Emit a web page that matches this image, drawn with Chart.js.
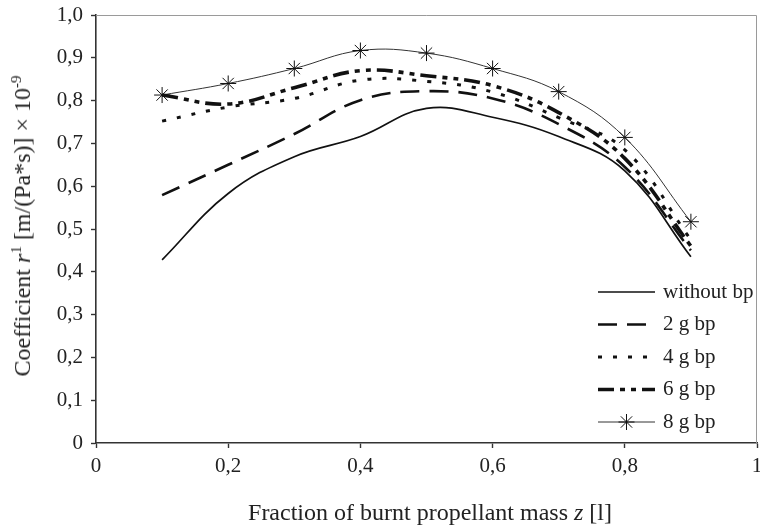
<!DOCTYPE html>
<html>
<head>
<meta charset="utf-8">
<script src="https://cdn.jsdelivr.net/npm/chart.js@4.4.1/dist/chart.umd.min.js"></script>
<style>
  html, body { margin: 0; padding: 0; background: #fff; }
  #wrap { position: relative; width: 760px; height: 530px; }
  .axis-title {
    position: absolute;
    font-family: "Liberation Serif", "DejaVu Serif", serif;
    font-size: 24px;
    color: #222;
    white-space: nowrap;
    line-height: 1;
  }
  .axis-title sup { font-size: 15px; vertical-align: 9px; line-height: 0; }
  #yTitle { left: 22px; top: 226px; transform: translate(-50%, -50%) rotate(-90deg); }
  #xTitle { left: 430px; top: 512px; transform: translate(-50%, -50%); }
</style>
</head>
<body>
<div id="wrap">
  <canvas id="chart" width="760" height="530"></canvas>
  <div class="axis-title" id="yTitle">Coefficient <i>r</i><sup>1</sup> [m/(Pa*s)] × 10<sup>-9</sup></div>
  <div class="axis-title" id="xTitle">Fraction of burnt propellant mass <i>z</i> [l]</div>
</div>
<script>
// values
const zValues = [0.1, 0.2, 0.3, 0.4, 0.5, 0.6, 0.7, 0.8, 0.9];
const withoutBp = [0.428, 0.583, 0.669, 0.716, 0.782, 0.761, 0.716, 0.636, 0.435];
const bp2g = [0.579, 0.650, 0.722, 0.801, 0.822, 0.805, 0.745, 0.645, 0.450];
const bp4g = [0.752, 0.785, 0.805, 0.848, 0.845, 0.820, 0.760, 0.685, 0.475];
const bp6g = [0.813, 0.792, 0.830, 0.870, 0.858, 0.835, 0.772, 0.665, 0.460];
const bp8g = [0.813, 0.840, 0.875, 0.917, 0.911, 0.875, 0.821, 0.714, 0.517];

const seriesLabels = ["without bp", "2 g bp", "4 g bp", "6 g bp", "8 g bp"];
const xTicks = [0, 0.2, 0.4, 0.6, 0.8, 1];
const yTicks = [0, 0.1, 0.2, 0.3, 0.4, 0.5, 0.6, 0.7, 0.8, 0.9, 1.0];

const FONT = "Liberation Serif";
const INK = "#111";

function points(values) {
  return values.map((v, i) => ({ x: zValues[i], y: v }));
}

function fmtComma(v, keepDecimal) {
  if (v === 0) return "0";
  if (v === 1 && !keepDecimal) return "1";
  return v.toFixed(1).replace(".", ",");
}

function noPadding(s) {
  s.paddingLeft = 0;
  s.paddingRight = 0;
  s.paddingTop = 0;
  s.paddingBottom = 0;
}

// thin grey frame on top and right of the plot
const framePlugin = {
  id: "frame",
  beforeDatasetsDraw(chart) {
    const { ctx, chartArea: a } = chart;
    ctx.save();
    ctx.strokeStyle = "#9a9a9a";
    ctx.lineWidth = 1;
    ctx.beginPath();
    ctx.moveTo(a.left, a.top + 0.5);
    ctx.lineTo(a.right - 0.5, a.top + 0.5);
    ctx.lineTo(a.right - 0.5, a.bottom);
    ctx.stroke();
    ctx.restore();
  },
};

// legend inside the plot, bottom right
const insideLegend = {
  id: "insideLegend",
  afterDraw(chart) {
    const { ctx, chartArea: a } = chart;
    const x0 = a.right - 159;
    const sampleW = 57;
    const rowH = 32.5;
    const y0 = a.bottom - 151;
    ctx.save();
    chart.data.datasets.forEach((ds, i) => {
      const y = y0 + i * rowH;
      ctx.save();
      ctx.strokeStyle = ds.borderColor;
      ctx.lineWidth = ds.borderWidth;
      ctx.setLineDash(ds.borderDash || []);
      ctx.beginPath();
      ctx.moveTo(x0, y);
      ctx.lineTo(x0 + sampleW, y);
      ctx.stroke();
      ctx.restore();
      if (ds.pointRadius > 0) {
        ctx.save();
        ctx.strokeStyle = ds.pointBorderColor;
        Chart.helpers.drawPoint(ctx, {
          pointStyle: ds.pointStyle,
          radius: ds.pointRadius,
          borderWidth: ds.pointBorderWidth,
          rotation: 0,
        }, x0 + sampleW / 2, y);
        ctx.restore();
      }
      ctx.fillStyle = "#222";
      ctx.font = `21px "${FONT}"`;
      ctx.textBaseline = "middle";
      ctx.textAlign = "left";
      ctx.fillText(seriesLabels[i], x0 + 65, y);
    });
    ctx.restore();
  },
};

const lineBase = {
  borderColor: INK,
  backgroundColor: INK,
  fill: false,
  tension: 0.4,
  pointRadius: 0,
  pointHoverRadius: 0,
};

new Chart(document.getElementById("chart"), {
  type: "line",
  data: {
    datasets: [
      { ...lineBase, label: seriesLabels[0], data: points(withoutBp), borderWidth: 1.7 },
      { ...lineBase, label: seriesLabels[1], data: points(bp2g), borderWidth: 2.6, borderDash: [19, 10] },
      { ...lineBase, label: seriesLabels[2], data: points(bp4g), borderWidth: 3, borderDash: [4, 11] },
      { ...lineBase, label: seriesLabels[3], data: points(bp6g), borderWidth: 3.6, borderDash: [16, 6, 5, 6, 5, 6] },
      {
        ...lineBase, label: seriesLabels[4], data: points(bp8g), borderWidth: 1, borderColor: "#333",
        pointStyle: "star", pointRadius: 8, pointBorderWidth: 1, pointBorderColor: "#111",
      },
    ],
  },
  options: {
    responsive: false,
    animation: false,
    devicePixelRatio: 1,
    layout: { autoPadding: false, padding: { top: 15, right: 3, left: 0, bottom: 0 } },
    plugins: { legend: { display: false }, tooltip: { enabled: false } },
    scales: {
      x: {
        type: "linear",
        min: 0,
        max: 1,
        afterBuildTicks: (s) => { s.ticks = xTicks.map((v) => ({ value: v })); },
        afterFit: (s) => { s.height = 87; noPadding(s); },
        border: { display: true, color: "#333", width: 1.6 },
        grid: { drawOnChartArea: false, drawTicks: true, tickLength: 5, tickColor: "#333", tickWidth: 1.4 },
        ticks: {
          padding: 6,
          color: "#222",
          font: { family: FONT, size: 21 },
          maxRotation: 0,
          callback: (v) => fmtComma(v, false),
        },
      },
      y: {
        min: 0,
        max: 1,
        afterBuildTicks: (s) => { s.ticks = yTicks.map((v) => ({ value: v })); },
        afterFit: (s) => { s.width = 96; noPadding(s); },
        border: { display: true, color: "#333", width: 1.6 },
        grid: { drawOnChartArea: false, drawTicks: true, tickLength: 5, tickColor: "#333", tickWidth: 1.4 },
        ticks: {
          padding: 8,
          color: "#222",
          font: { family: FONT, size: 21 },
          callback: (v) => fmtComma(v, true),
        },
      },
    },
  },
  plugins: [framePlugin, insideLegend],
});
</script>
</body>
</html>
